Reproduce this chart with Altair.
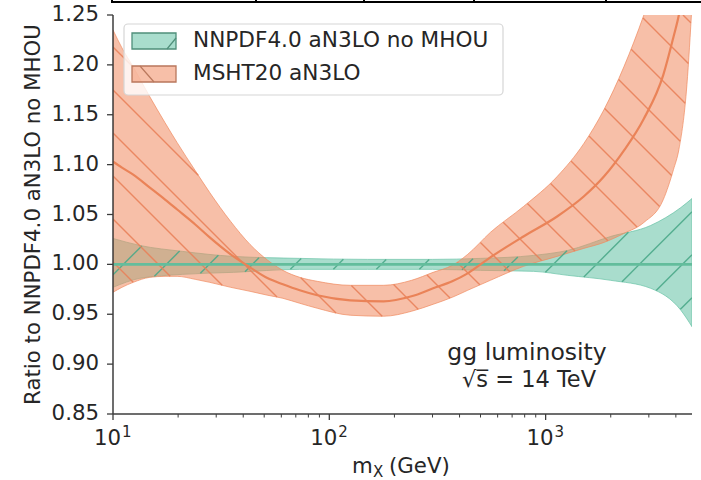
import altair as alt
import numpy as np
import pandas as pd

# ---------------------------------------------------------------------------
# gg luminosity ratio to NNPDF4.0 aN3LO (no MHOU), sqrt(s) = 14 TeV
# ---------------------------------------------------------------------------

# NNPDF4.0 aN3LO no MHOU: central value and uncertainty band
nn_mass = [10, 13.3, 21, 36, 73, 150, 300, 500, 880, 1265, 2000, 3060, 4220, 4750]
nn_low = [0.977, 0.986, 0.990, 0.992, 0.995, 0.995, 0.995, 0.994, 0.993, 0.989,
          0.984, 0.976, 0.954, 0.9375]
nn_high = [1.026, 1.019, 1.013, 1.008, 1.006, 1.005, 1.005, 1.006, 1.009, 1.014,
           1.028, 1.039, 1.057, 1.066]
nn_central = [1.000, 1.000, 1.000, 1.000, 1.000, 1.000, 1.000, 1.000, 1.000, 1.000,
              1.000, 1.000, 1.000, 1.000]

# MSHT20 aN3LO: central value and uncertainty band
ms_mass = [10, 11, 12.4, 14.8, 17.4, 19.8, 24, 28, 35, 43, 52, 61, 73, 88, 125, 178,
           240, 302, 370, 436, 555, 790, 1130, 1500, 1860, 2300, 2845, 3500, 3900,
           4130, 4500, 4750]
ms_high = [1.235, 1.217, 1.198, 1.168, 1.142, 1.122, 1.094, 1.072, 1.043, 1.020,
           1.004, 0.994, 0.987, 0.983, 0.979, 0.979, 0.984, 0.992, 0.999, 1.010,
           1.032, 1.058, 1.088, 1.121, 1.155, 1.198, 1.250, 1.310, 1.350, 1.370,
           1.410, 1.440]
ms_low = [0.972, 0.977, 0.982, 0.987, 0.988, 0.988, 0.985, 0.982, 0.977, 0.973,
          0.969, 0.966, 0.961, 0.956, 0.949, 0.948, 0.953, 0.960, 0.967, 0.974,
          0.984, 0.998, 1.008, 1.016, 1.022, 1.031, 1.042, 1.065, 1.095, 1.115,
          1.180, 1.260]
ms_central = [1.103, 1.097, 1.090, 1.077, 1.065, 1.055, 1.040, 1.027, 1.010, 0.997,
              0.986, 0.980, 0.974, 0.969, 0.964, 0.963, 0.968, 0.976, 0.983, 0.991,
              1.007, 1.028, 1.048, 1.068, 1.088, 1.114, 1.146, 1.190, 1.228, 1.250,
              1.300, 1.350]

labels = ["NNPDF4.0 aN3LO no MHOU", "MSHT20 aN3LO"]
x_major = [10, 100, 1000]
x_exponent = ["1", "2", "3"]
x_minor = [20, 30, 40, 50, 60, 70, 80, 90, 200, 300, 400, 500, 600, 700, 800, 900,
           2000, 3000, 4000]
y_ticks = [0.85, 0.90, 0.95, 1.00, 1.05, 1.10, 1.15, 1.20, 1.25]

# ---------------------------------------------------------------------------
X_MIN, X_MAX = 10, 4750
Y_MIN, Y_MAX = 0.85, 1.25
W, H = 579, 399
GREEN, ORANGE = "#66c2a5", "#f08a60"
GREEN_DK, ORANGE_DK = "#4aa888", "#e8815a"
FONT = "DejaVu Sans"
FS = 21.3
INK = "#262626"
AXC = "#3c3c3c"

xsc = alt.Scale(type="log", domain=[X_MIN, X_MAX], nice=False)
ysc = alt.Scale(domain=[Y_MIN, Y_MAX], nice=False, zero=False)


def monotone(xk, yk, xq):
    """Monotone cubic (same scheme as the renderer's 'monotone' curve)."""
    xk = np.asarray(xk, float)
    yk = np.asarray(yk, float)
    n = len(xk)
    h = np.diff(xk)
    s = np.diff(yk) / h
    t = np.zeros(n)
    for i in range(1, n - 1):
        h0, h1, s0, s1 = h[i - 1], h[i], s[i - 1], s[i]
        p = (s0 * h1 + s1 * h0) / (h0 + h1)
        t[i] = (np.sign(s0) + np.sign(s1)) * min(abs(s0), abs(s1), 0.5 * abs(p))
    t[0] = (3 * s[0] - t[1]) / 2
    t[-1] = (3 * s[-1] - t[-2]) / 2
    i = np.clip(np.searchsorted(xk, xq) - 1, 0, n - 2)
    hh = h[i]
    u = (xq - xk[i]) / hh
    h00 = 2 * u**3 - 3 * u**2 + 1
    h10 = u**3 - 2 * u**2 + u
    h01 = -2 * u**3 + 3 * u**2
    h11 = u**3 - u**2
    return h00 * yk[i] + h10 * hh * t[i] + h01 * yk[i + 1] + h11 * hh * t[i + 1]


def hatch(mass, low, high, slope, phase, step=43.0):
    """Diagonal hatch strokes (45 degrees on screen) restricted to a band."""
    span = np.log10(X_MAX / X_MIN)
    lx = np.log10(mass)
    xs = np.arange(0, W + 0.01, 0.2)
    lq = np.log10(X_MIN) + xs / W * span
    lo = monotone(lx, low, lq)
    hi = monotone(lx, high, lq)
    cmin, cmax = (-W, H) if slope > 0 else (0, W + H)
    ks = np.arange(np.floor((cmin - phase) / step), np.ceil((cmax - phase) / step) + 1)
    rows = []
    for c in phase + step * ks:
        yy = slope * xs + c
        v = Y_MAX - yy / H * (Y_MAX - Y_MIN)
        inside = (v >= lo) & (v <= hi) & (v >= Y_MIN) & (v <= Y_MAX)
        idx = np.flatnonzero(inside)
        if idx.size == 0:
            continue
        cut = np.flatnonzero(np.diff(idx) > 1)
        starts = np.r_[idx[0], idx[cut + 1]]
        ends = np.r_[idx[cut], idx[-1]]
        for a, b in zip(starts, ends):
            if b - a < 2:
                continue
            rows.append({"x": 10 ** lq[a], "y": v[a], "x2": 10 ** lq[b], "y2": v[b]})
    return pd.DataFrame(rows)


nn = pd.DataFrame({"m": nn_mass, "lo": nn_low, "hi": nn_high, "c": nn_central})
ms = pd.DataFrame({"m": ms_mass, "lo": ms_low, "hi": ms_high, "c": ms_central})
nn_hatch = hatch(nn_mass, nn_low, nn_high, slope=-1, phase=1.7)
ms_hatch = hatch(ms_mass, ms_low, ms_high, slope=1, phase=32.0)

X = lambda f: alt.X(f, scale=xsc, axis=None)
Y = lambda f: alt.Y(f, scale=ysc, axis=None)

# uncertainty bands
nn_band = alt.Chart(nn).mark_area(
    clip=True, interpolate="monotone", fill=GREEN, fillOpacity=0.56,
    stroke=GREEN, strokeWidth=1, strokeOpacity=0.7,
).encode(x=X("m:Q"), y=Y("lo:Q"), y2="hi:Q")
ms_band = alt.Chart(ms).mark_area(
    clip=True, interpolate="monotone", fill=ORANGE, fillOpacity=0.55,
    stroke=ORANGE, strokeWidth=1, strokeOpacity=0.7,
).encode(x=X("m:Q"), y=Y("lo:Q"), y2="hi:Q")


def hatch_layer(df, color):
    return alt.Chart(df).mark_rule(
        clip=True, color=color, strokeWidth=1.4, opacity=0.9
    ).encode(x=X("x:Q"), x2="x2:Q", y=Y("y:Q"), y2="y2:Q")


def central(df, color, width):
    return alt.Chart(df).mark_line(
        clip=True, interpolate="monotone", color=color, strokeWidth=width
    ).encode(x=X("m:Q"), y=Y("c:Q"))


one = pd.DataFrame({"k": [0]})


def text(s, x, y, size=FS, align="left", baseline="alphabetic", angle=0):
    return alt.Chart(one).mark_text(
        text=s, font=FONT, fontSize=size, color=INK, align=align, baseline=baseline,
        angle=angle,
    ).encode(x=alt.value(x), y=alt.value(y))


def seg(x1, y1, x2, y2, color, width):
    return alt.Chart(one).mark_rule(color=color, strokeWidth=width).encode(
        x=alt.value(x1), y=alt.value(y1), x2=alt.value(x2), y2=alt.value(y2))


# ---- axes: spines, ticks and tick labels, placed through the scales
yt = pd.DataFrame({"v": y_ticks, "lab": [f"{v:.2f}" for v in y_ticks]})
xt = pd.DataFrame({"m": x_major, "e": x_exponent})
axes = [
    seg(0, 0, 0, H, AXC, 1.5),
    seg(0, H, W, H, AXC, 1.5),
    alt.Chart(yt).mark_rule(color=AXC, strokeWidth=1.3).encode(
        y=Y("v:Q"), x=alt.value(-6), x2=alt.value(0)),
    alt.Chart(yt).mark_text(
        font=FONT, fontSize=FS, color=INK, align="right", baseline="middle", dx=-14
    ).encode(y=Y("v:Q"), x=alt.value(0), text="lab:N"),
    alt.Chart(xt).mark_rule(color=AXC, strokeWidth=1.3).encode(
        x=X("m:Q"), y=alt.value(H), y2=alt.value(H + 6)),
    alt.Chart(pd.DataFrame({"m": x_minor})).mark_rule(color=AXC, strokeWidth=1.0).encode(
        x=X("m:Q"), y=alt.value(H), y2=alt.value(H + 3.5)),
    alt.Chart(xt).mark_text(
        text="10", font=FONT, fontSize=FS, color=INK, align="right",
        baseline="alphabetic", dx=8
    ).encode(x=X("m:Q"), y=alt.value(H + 31)),
    alt.Chart(xt).mark_text(
        font=FONT, fontSize=15, color=INK, align="left", baseline="alphabetic", dx=9
    ).encode(x=X("m:Q"), y=alt.value(H + 23), text="e:N"),
]

# axis titles
titles = [
    text("Ratio to NNPDF4.0 aN3LO no MHOU", -79, H / 2, align="center",
         baseline="middle", angle=270),
    text("m", 239, 458),
    text("X", 260, 462, size=15),
    text("(GeV)", 276, 458),
]

# legend frame, swatches and entries
leg_box = alt.Chart(one).mark_rect(
    fill="white", fillOpacity=0.8, stroke="#d6d6d6", strokeWidth=1.2, cornerRadius=4
).encode(x=alt.value(11), x2=alt.value(390), y=alt.value(9), y2=alt.value(80))
sw_nn = alt.Chart(one).mark_rect(
    fill=GREEN, fillOpacity=0.56, stroke="#4f8f7a", strokeWidth=1.3
).encode(x=alt.value(19), x2=alt.value(63), y=alt.value(18), y2=alt.value(34))
sw_ms = alt.Chart(one).mark_rect(
    fill=ORANGE, fillOpacity=0.55, stroke="#b9775c", strokeWidth=1.3
).encode(x=alt.value(19), x2=alt.value(63), y=alt.value(51), y2=alt.value(67))
legend = [
    leg_box, sw_nn, sw_ms,
    seg(54, 34, 63, 23, "#4f8f7a", 1.2),
    seg(27, 51, 41, 67, "#b9775c", 1.2),
    text(labels[0], 80, 26, size=21.6, baseline="middle"),
    text(labels[1], 80, 59, size=21.6, baseline="middle"),
]

# annotation
notes = [
    text("gg luminosity", 414, 345, size=23.5, align="center"),
    text("√s̅ = 14 TeV", 416, 372, size=22.5, align="center"),
]

# thin frame line along the top edge
frame = [seg(-1, -13, 588, -13, "black", 2)]
frame += [seg(px, -15, px, -12, "black", 2) for px in [-1, 143, 251, 361, 493]]

chart = alt.layer(
    nn_band, ms_band,
    hatch_layer(nn_hatch, GREEN_DK), hatch_layer(ms_hatch, ORANGE_DK),
    central(nn, "#63bd9c", 2.6), central(ms, "#ea8358", 2.2),
    *axes, *titles, *legend, *notes, *frame,
).properties(
    width=W, height=H,
    padding={"left": 113, "top": 15, "right": 9, "bottom": 66},
    autosize=alt.AutoSizeParams(type="none"),
    background="white",
).configure_view(stroke=None)

chart.save("out.html", embed_options={"renderer": "svg", "actions": False})
